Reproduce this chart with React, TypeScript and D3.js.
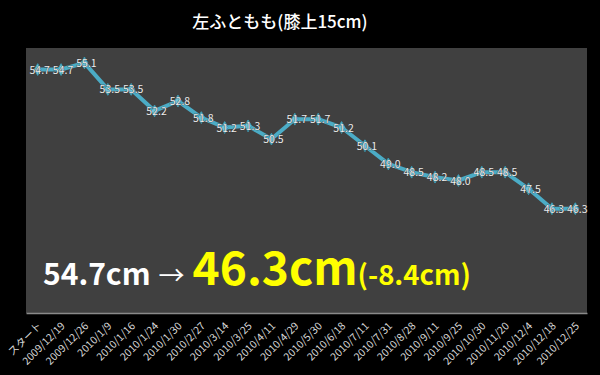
import React, { useEffect, useRef } from "react";
import * as d3 from "d3";

const dates = [
  "スタート", "2009/12/19", "2009/12/26", "2010/1/9", "2010/1/16", "2010/1/24",
  "2010/1/30", "2010/2/27", "2010/3/14", "2010/3/25", "2010/4/11", "2010/4/29",
  "2010/5/30", "2010/6/18", "2010/7/11", "2010/7/31", "2010/8/28", "2010/9/11",
  "2010/9/25", "2010/10/30", "2010/11/20", "2010/12/4", "2010/12/18", "2010/12/25",
];
const thigh = [
  54.7, 54.7, 55.1, 53.5, 53.5, 52.2, 52.8, 51.8, 51.2, 51.3, 50.5, 51.7,
  51.7, 51.2, 50.1, 49.0, 48.5, 48.2, 48.0, 48.5, 48.5, 47.5, 46.3, 46.3,
];
const yDomain = [40, 56];
const title = "左ふともも(膝上15cm)";

const App = () => {
  const ref = useRef<SVGSVGElement>(null);

  useEffect(() => {
    const svg = d3.select(ref.current);
    svg.selectAll("*").remove();
    const width = 600;
    const height = 375;
    const margin = { top: 48, right: 13, bottom: 62, left: 26 };
    const font = "'Noto Sans CJK JP', 'Noto Sans', sans-serif";

    svg.append("rect").attr("width", width).attr("height", height).attr("fill", "#000");

    svg.append("text")
      .attr("x", 280).attr("y", 28)
      .attr("text-anchor", "middle")
      .attr("fill", "#fff")
      .attr("font-family", font)
      .attr("font-size", 17)
      .attr("font-weight", 500)
      .text(title);

    const x = d3.scaleBand()
      .domain(dates)
      .range([margin.left, width - margin.right]);
    const y = d3.scaleLinear()
      .domain(yDomain)
      .range([height - margin.bottom, margin.top]);

    // plot area
    svg.append("rect")
      .attr("x", margin.left).attr("y", margin.top)
      .attr("width", width - margin.left - margin.right)
      .attr("height", height - margin.top - margin.bottom)
      .attr("fill", "#404040");

    // X axis
    const ax = svg.append("g")
      .attr("transform", `translate(0, ${height - margin.bottom})`)
      .call(d3.axisBottom(x).tickSize(0).tickPadding(0));
    ax.select(".domain").attr("stroke", "#8a8a8a").attr("stroke-width", 1.5);
    ax.selectAll(".tick text")
      .attr("fill", "#d8d8d8")
      .attr("font-family", font)
      .attr("font-size", 10.5)
      .attr("text-anchor", "end")
      .attr("dy", "0.35em")
      .attr("transform", "translate(2, 11) rotate(-45)");

    const cx = (d: string) => x(d)! + x.bandwidth() / 2;

    const line = d3.line<number>()
      .x((_, i) => cx(dates[i]))
      .y(d => y(d));

    svg.append("path")
      .datum(thigh)
      .attr("fill", "none")
      .attr("stroke", "#4bacc6")
      .attr("stroke-width", 4)
      .attr("stroke-linejoin", "round")
      .attr("d", line);

    const sym = d3.symbol().type(d3.symbolDiamond).size(40);
    svg.selectAll(".pt")
      .data(thigh)
      .enter().append("path")
      .attr("class", "pt")
      .attr("d", sym)
      .attr("fill", "#6cc4dc")
      .attr("stroke", "#3a9ab4")
      .attr("stroke-width", 1)
      .attr("transform", (d, i) => `translate(${cx(dates[i])}, ${y(d)})`);

    svg.selectAll(".lbl")
      .data(thigh)
      .enter().append("text")
      .attr("class", "lbl")
      .attr("x", (_, i) => cx(dates[i]) + 2)
      .attr("y", d => y(d) + 4)
      .attr("text-anchor", "middle")
      .attr("fill", "#eeeeee")
      .attr("stroke", "#303030")
      .attr("stroke-width", 0.6)
      .attr("paint-order", "stroke")
      .attr("font-family", font)
      .attr("font-size", 10.5)
      .text(d => d.toFixed(1));

    // summary
    const start = thigh[0];
    const end = thigh[thigh.length - 1];
    const diff = end - start;
    const t = svg.append("text")
      .attr("x", 43).attr("y", 285)
      .attr("font-family", font)
      .attr("font-weight", "bold");
    t.append("tspan").attr("fill", "#fff").attr("font-size", 30).text(`${start.toFixed(1)}cm`);
    t.append("tspan").attr("fill", "#fff").attr("font-size", 26).attr("font-weight", "normal").attr("dx", 8).text("→");
    t.append("tspan").attr("fill", "#ffff00").attr("font-size", 46).attr("dx", 8).text(`${end.toFixed(1)}cm`);
    t.append("tspan").attr("fill", "#ffff00").attr("font-size", 27.5).text(`(${diff.toFixed(1)}cm)`);
  });

  return (
    <svg ref={ref} width={600} height={375}
      style={{ position: "absolute", left: 0, top: 0, display: "block" }} />
  );
};

export default App;
